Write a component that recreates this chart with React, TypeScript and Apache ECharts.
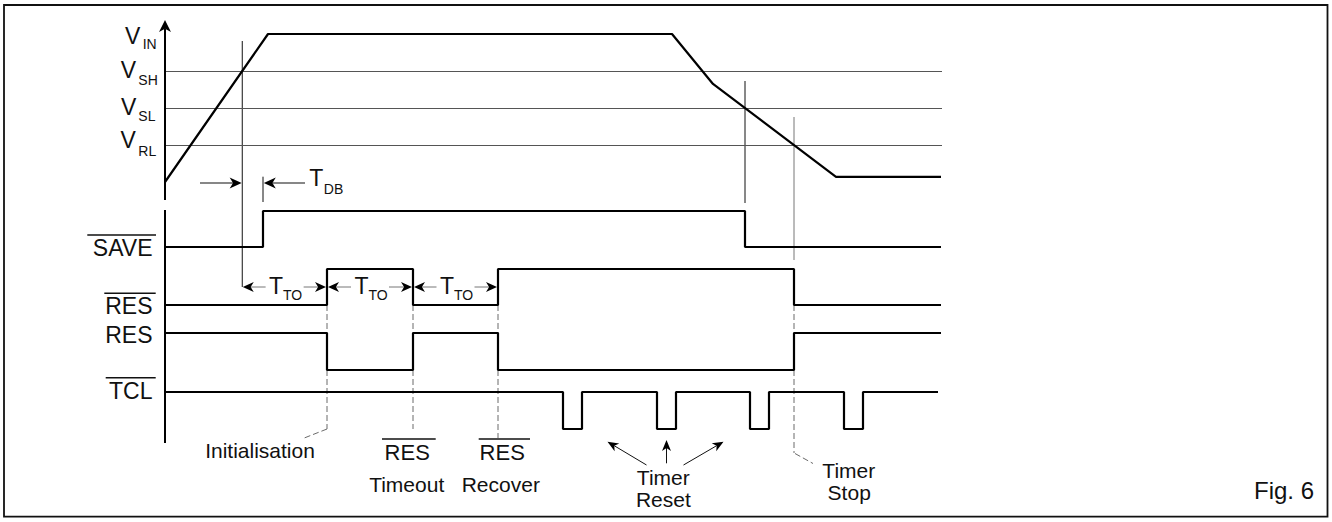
import React, { useEffect, useRef } from 'react';
import * as echarts from 'echarts';

// ---------------- data (time measured from the V axis, levels per lane) ----------------
const VIN_TIME = [0, 103, 507, 548, 671, 776];
const VIN_VOLT = [0, 4, 4, 2.65, 0.14, 0.14];
const VIN_LEVEL_VALUES = [4, 3, 2, 1];
const VIN_LEVEL_NAMES = ['IN', 'SH', 'SL', 'RL'];
const THRESHOLD_VALUES = [3, 2, 1];

const SAVE_START = 0;
const SAVE_EDGES = [98, 580];
const RESB_START = 0;
const RESB_EDGES = [162, 248, 333, 629];
const RES_START = 1;
const RES_EDGES = [162, 248, 333, 629];
const TCL_START = 1;
const TCL_EDGES = [398, 417, 492, 511, 585, 604, 679, 698];
const DIGITAL_END = 776;
const TCL_END = 773;

const SIGNAL_NAMES = ['SAVE', 'RES', 'RES', 'TCL'];
const SIGNAL_OVERLINE = [true, true, false, true];

// ---------------- layout ----------------
const W = 1332;
const H = 522;
const X0 = 165;
const PLOT_W = 777;
const VIN_TOP = 34;
const VIN_BOTTOM = 182;
const VIN_MAX = 4;
const LANES = [
  { top: 211, bottom: 247 },
  { top: 269, bottom: 305 },
  { top: 333, bottom: 370 },
  { top: 392, bottom: 429 },
];
const FONT = '"Liberation Sans", Arial, Helvetica, sans-serif';

function stepPoints(start: number, edges: number[], end: number) {
  const pts: number[][] = [[0, start]];
  let lvl = start;
  for (const e of edges) {
    pts.push([e, lvl]);
    lvl = 1 - lvl;
    pts.push([e, lvl]);
  }
  pts.push([end, lvl]);
  return pts;
}

function crossTime(times: number[], vals: number[], level: number) {
  for (let i = 0; i < times.length - 1; i++) {
    const a = vals[i], b = vals[i + 1];
    if ((a - level) * (b - level) <= 0 && a !== b) {
      return times[i] + ((level - a) / (b - a)) * (times[i + 1] - times[i]);
    }
  }
  return 0;
}

const SEG_STYLES: any[] = [
  { stroke: '#111', lineWidth: 1 },
  { stroke: '#777', lineWidth: 1 },
  { stroke: '#6a6a6a', lineWidth: 1, lineDash: [6, 3] },
  { stroke: '#000', lineWidth: 2 },
];
const ARROW_STYLES: any[] = [
  { line: '#111', lw: 1.2, head: '#000', len: 12, wid: 11 },
  { line: '#777', lw: 1, head: '#000', len: 11, wid: 10 },
  { line: '#000', lw: 2, head: '#000', len: 12, wid: 12 },
  { line: '#111', lw: 1, head: '#000', len: 11, wid: 9 },
];

function txt(text: string, x: number, y: number, size: number, align = 'left') {
  return {
    type: 'text',
    x,
    y,
    silent: true,
    z: 10,
    style: {
      text,
      fill: '#111',
      font: `${size}px ${FONT}`,
      textAlign: align,
      textVerticalAlign: 'middle',
    },
  };
}
function hline(x1: number, x2: number, y: number, lw = 1.5) {
  return {
    type: 'line',
    silent: true,
    z: 10,
    shape: { x1, y1: y, x2, y2: y },
    style: { stroke: '#111', lineWidth: lw },
  };
}

function buildOption() {
  const vinY = (v: number) => VIN_BOTTOM - (v * (VIN_BOTTOM - VIN_TOP)) / VIN_MAX;
  const vshCross = crossTime(VIN_TIME, VIN_VOLT, THRESHOLD_VALUES[0]);

  const grids: any[] = [
    { left: X0, width: PLOT_W, top: VIN_TOP, height: VIN_BOTTOM - VIN_TOP },
    ...LANES.map((l) => ({ left: X0, width: PLOT_W, top: l.top, height: l.bottom - l.top })),
    { left: 0, top: 0, width: W, height: H },
  ];
  const xAxes: any[] = grids.map((_, i) =>
    i < 5
      ? { gridIndex: i, type: 'value', min: 0, max: PLOT_W, show: false }
      : { gridIndex: i, type: 'value', min: -X0, max: W - X0, show: false }
  );
  const yAxes: any[] = grids.map((_, i) =>
    i === 0
      ? { gridIndex: 0, type: 'value', min: 0, max: VIN_MAX, show: false }
      : i < 5
      ? { gridIndex: i, type: 'value', min: 0, max: 1, show: false }
      : { gridIndex: i, type: 'value', min: 0, max: H, inverse: true, show: false }
  );

  const lineBase = {
    type: 'line',
    symbol: 'none',
    silent: true,
    clip: false,
    lineStyle: { color: '#000', width: 2.2 },
    z: 5,
  };

  const digital = [
    stepPoints(SAVE_START, SAVE_EDGES, DIGITAL_END),
    stepPoints(RESB_START, RESB_EDGES, DIGITAL_END),
    stepPoints(RES_START, RES_EDGES, DIGITAL_END),
    stepPoints(TCL_START, TCL_EDGES, TCL_END),
  ];

  // ------------- annotations (overlay grid: x = time, y = row) -------------
  const segs: number[][] = [];
  segs.push([0, 210, 0, 443, 3]);
  segs.push([vshCross, 41, vshCross, 287, 0]);
  segs.push([SAVE_EDGES[0], 176.7, SAVE_EDGES[0], 202, 0]);
  segs.push([SAVE_EDGES[1], 81, SAVE_EDGES[1], 203, 0]);
  segs.push([RESB_EDGES[3], 117, RESB_EDGES[3], 260, 1]);
  const dashEnds = [429, 429, 438, 453];
  RESB_EDGES.forEach((e, i) => {
    segs.push([e, LANES[1].bottom, e, LANES[2].top, 2]);
    segs.push([e, LANES[2].bottom, e, dashEnds[i], 2]);
  });
  segs.push([RESB_EDGES[0], 429, RESB_EDGES[0] - 24, 438.5, 2]);
  segs.push([RESB_EDGES[3] + 1, 453.5, RESB_EDGES[3] + 19, 463.5, 2]);

  const arrows: number[][] = [];
  arrows.push([0, 200, 0, 20, 2]);
  arrows.push([35, 183, vshCross - 0.6, 183, 0]);
  arrows.push([140, 183, SAVE_EDGES[0] + 0.8, 183, 0]);
  const toSegs = [
    [vshCross, RESB_EDGES[0], 0.5],
    [RESB_EDGES[0], RESB_EDGES[1], 1],
    [RESB_EDGES[1], RESB_EDGES[2], 1],
  ];
  const TO_Y = 287;
  toSegs.forEach(([a, b, off]) => {
    const m = (a + b) / 2;
    arrows.push([m - 19, TO_Y, a + off, TO_Y, 1]);
    arrows.push([m + 19, TO_Y, b - 1, TO_Y, 1]);
  });
  const pulseC = [0, 2, 4].map((k) => (TCL_EDGES[k] + TCL_EDGES[k + 1]) / 2);
  const midC = pulseC[1];
  arrows.push([midC - 20, 465, pulseC[0] + 35, 441.7, 3]);
  arrows.push([midC, 463.3, midC, 440, 3]);
  arrows.push([midC + 17, 465, pulseC[2] - 36, 441.7, 3]);

  // ------------- texts -------------
  const graphics: any[] = [];
  graphics.push({
    type: 'rect',
    silent: true,
    shape: { x: 4, y: 5, width: 1323.5, height: 511.7 },
    style: { fill: 'none', stroke: '#111', lineWidth: 1.8 },
  });
  const V_LEFT = [125, 120.7, 121, 120.5];
  const SUB_LEFT = [142.7, 138.3, 138.3, 138.3];
  const V_CY = [35.5, 70, 107, 139.9];
  const SUB_CY = [43.7, 79.7, 115.8, 151.3];
  VIN_LEVEL_VALUES.forEach((v, i) => {
    void vinY(v);
    graphics.push(txt('V', V_LEFT[i], V_CY[i], 23));
    graphics.push(txt(VIN_LEVEL_NAMES[i], SUB_LEFT[i], SUB_CY[i], 14));
  });
  const SIG_CY = [248.3, 306.3, 335, 391];
  const OVER = [
    [87.3, 156, 235],
    [104.3, 155.7, 293.3],
    null,
    [105.7, 155.7, 377.7],
  ];
  SIGNAL_NAMES.forEach((name, i) => {
    graphics.push(txt(name, 152.5, SIG_CY[i], 23, 'right'));
    const o = OVER[i];
    if (SIGNAL_OVERLINE[i] && o) graphics.push(hline(o[0], o[1], o[2]));
  });
  // T_DB
  graphics.push(txt('T', 309.3, 178.3, 23));
  graphics.push(txt('DB', 323.8, 189, 14));
  // T_TO
  toSegs.forEach(([a, b]) => {
    const m = X0 + (a + b) / 2;
    graphics.push(txt('T', m - 15.6, 286, 23));
    graphics.push(txt('TO', m - 1.6, 295, 14));
  });
  // bottom labels
  graphics.push(txt('Initialisation', 260, 450.8, 21, 'center'));
  graphics.push(txt('RES', 407.2, 452.5, 22, 'center'));
  graphics.push(hline(382, 435.7, 439));
  graphics.push(txt('Timeout', 406.7, 484.2, 21, 'center'));
  graphics.push(txt('RES', 502.2, 452.5, 22, 'center'));
  graphics.push(hline(478.7, 530, 439));
  graphics.push(txt('Recover', 500.8, 484.2, 21, 'center'));
  graphics.push(txt('Timer', 663.3, 477.5, 21, 'center'));
  graphics.push(txt('Reset', 663.3, 499.5, 21, 'center'));
  graphics.push(txt('Timer', 848.8, 470.8, 21, 'center'));
  graphics.push(txt('Stop', 849.2, 492.5, 21, 'center'));
  graphics.push(txt('Fig. 6', 1314, 490, 24, 'right'));

  const series: any[] = [
    {
      ...lineBase,
      name: 'VIN',
      xAxisIndex: 0,
      yAxisIndex: 0,
      data: VIN_TIME.map((t, i) => [t, VIN_VOLT[i]]),
      markLine: {
        silent: true,
        symbol: ['none', 'none'],
        label: { show: false },
        lineStyle: { color: '#555', width: 1.2, type: 'solid' },
        emphasis: { disabled: true },
        data: THRESHOLD_VALUES.map((v) => ({ yAxis: v })),
      },
    },
    ...digital.map((pts, i) => ({
      ...lineBase,
      name: SIGNAL_NAMES[i] + i,
      xAxisIndex: i + 1,
      yAxisIndex: i + 1,
      data: pts,
    })),
    {
      type: 'custom',
      name: 'segments',
      coordinateSystem: 'cartesian2d',
      xAxisIndex: 5,
      yAxisIndex: 5,
      silent: true,
      clip: false,
      z: 3,
      data: segs,
      renderItem: (_p: any, api: any) => {
        const a = api.coord([api.value(0), api.value(1)]);
        const b = api.coord([api.value(2), api.value(3)]);
        const s = SEG_STYLES[api.value(4)];
        return {
          type: 'line',
          shape: { x1: a[0], y1: a[1], x2: b[0], y2: b[1] },
          style: { ...s, fill: null },
        };
      },
    },
    {
      type: 'custom',
      name: 'arrows',
      coordinateSystem: 'cartesian2d',
      xAxisIndex: 5,
      yAxisIndex: 5,
      silent: true,
      clip: false,
      z: 6,
      data: arrows,
      renderItem: (_p: any, api: any) => {
        const a = api.coord([api.value(0), api.value(1)]);
        const t = api.coord([api.value(2), api.value(3)]);
        const st = ARROW_STYLES[api.value(4)];
        const dx = t[0] - a[0];
        const dy = t[1] - a[1];
        const len = Math.hypot(dx, dy) || 1;
        const ux = dx / len;
        const uy = dy / len;
        const L = st.len;
        const hw = st.wid / 2;
        const bx = t[0] - ux * L;
        const by = t[1] - uy * L;
        const nx = t[0] - ux * L * 0.72;
        const ny = t[1] - uy * L * 0.72;
        return {
          type: 'group',
          children: [
            {
              type: 'line',
              shape: { x1: a[0], y1: a[1], x2: nx, y2: ny },
              style: { stroke: st.line, lineWidth: st.lw, fill: null },
            },
            {
              type: 'polygon',
              shape: {
                points: [
                  [t[0], t[1]],
                  [bx - uy * hw, by + ux * hw],
                  [nx, ny],
                  [bx + uy * hw, by - ux * hw],
                ],
              },
              style: { fill: st.head, stroke: null },
            },
          ],
        };
      },
    },
  ];

  return {
    animation: false,
    backgroundColor: '#ffffff',
    grid: grids,
    xAxis: xAxes,
    yAxis: yAxes,
    series,
    graphic: { elements: graphics },
  };
}

export default function App() {
  const ref = useRef<HTMLDivElement>(null);
  useEffect(() => {
    document.body.style.margin = '0';
    document.body.style.overflow = 'hidden';
    const chart = echarts.init(ref.current as HTMLDivElement, undefined, { renderer: 'svg' });
    chart.setOption(buildOption() as any);
    return () => chart.dispose();
  }, []);
  return <div ref={ref} style={{ width: W, height: H }} />;
}
